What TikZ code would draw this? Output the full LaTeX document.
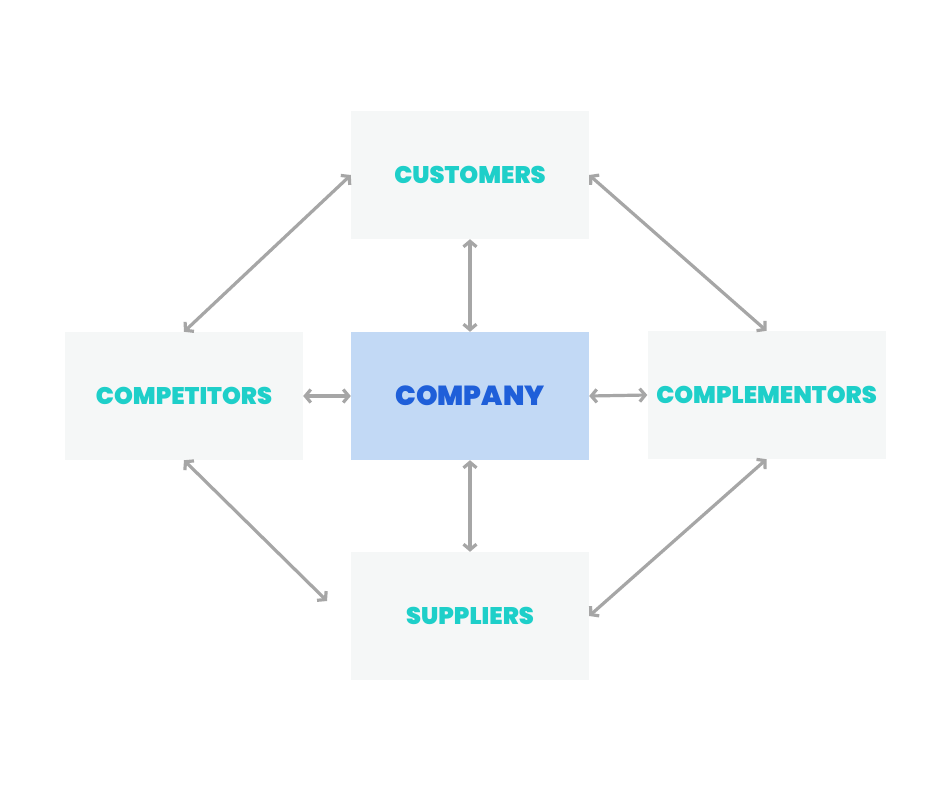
\documentclass[tikz,border=0pt]{standalone}
\usepackage{fontspec}
\setmainfont{Poppins}[BoldFont={* Black}]
\usetikzlibrary{arrows.meta}
\definecolor{boxgray}{HTML}{F5F7F7}
\definecolor{compfill}{HTML}{C2D9F5}
\definecolor{teal}{HTML}{1ECFC9}
\definecolor{compblue}{HTML}{1F5FD9}
\definecolor{arrgray}{HTML}{A6A6A6}
\begin{document}
\begin{tikzpicture}[x=1pt,y=-1pt,
  box/.style={fill=boxgray,minimum width=238pt,minimum height=128pt,inner sep=0pt,
    font=\fontsize{24}{24}\selectfont\bfseries,text=teal},
  mainbox/.style={box,fill=compfill,text=compblue,font=\fontsize{27.5}{27.5}\selectfont\bfseries},
  link/.style={draw=arrgray,line width=3.2pt,
    {Straight Barb[length=5.5pt,width=13pt,line width=3.2pt]}-{Straight Barb[length=5.5pt,width=13pt,line width=3.2pt]}}]
\useasboundingbox[fill=white] (0,0) rectangle (940,788);
\node[box] (cust) at (470,175) {CUSTOMERS};
\node[mainbox] (comp) at (470,396) {COMPANY};
\node[box] (compet) at (184,396) {COMPETITORS};
\node[box] (compl) at (766.5,395) {COMPLEMENTORS};
\node[box] (supp) at (470,616) {SUPPLIERS};
\coordinate (suppnw) at (327,601);
\draw[link] (cust.south) -- (comp.north);
\draw[link] (comp.south) -- (supp.north);
\draw[link] (compet.east) -- (comp.west);
\draw[link] (comp.east) -- (compl.west);
\draw[link] (cust.west) -- (compet.north);
\draw[link] (cust.east) -- (compl.north);
\draw[link] (compet.south) -- (suppnw);
\draw[link] (compl.south) -- (supp.east);
\end{tikzpicture}
\end{document}
